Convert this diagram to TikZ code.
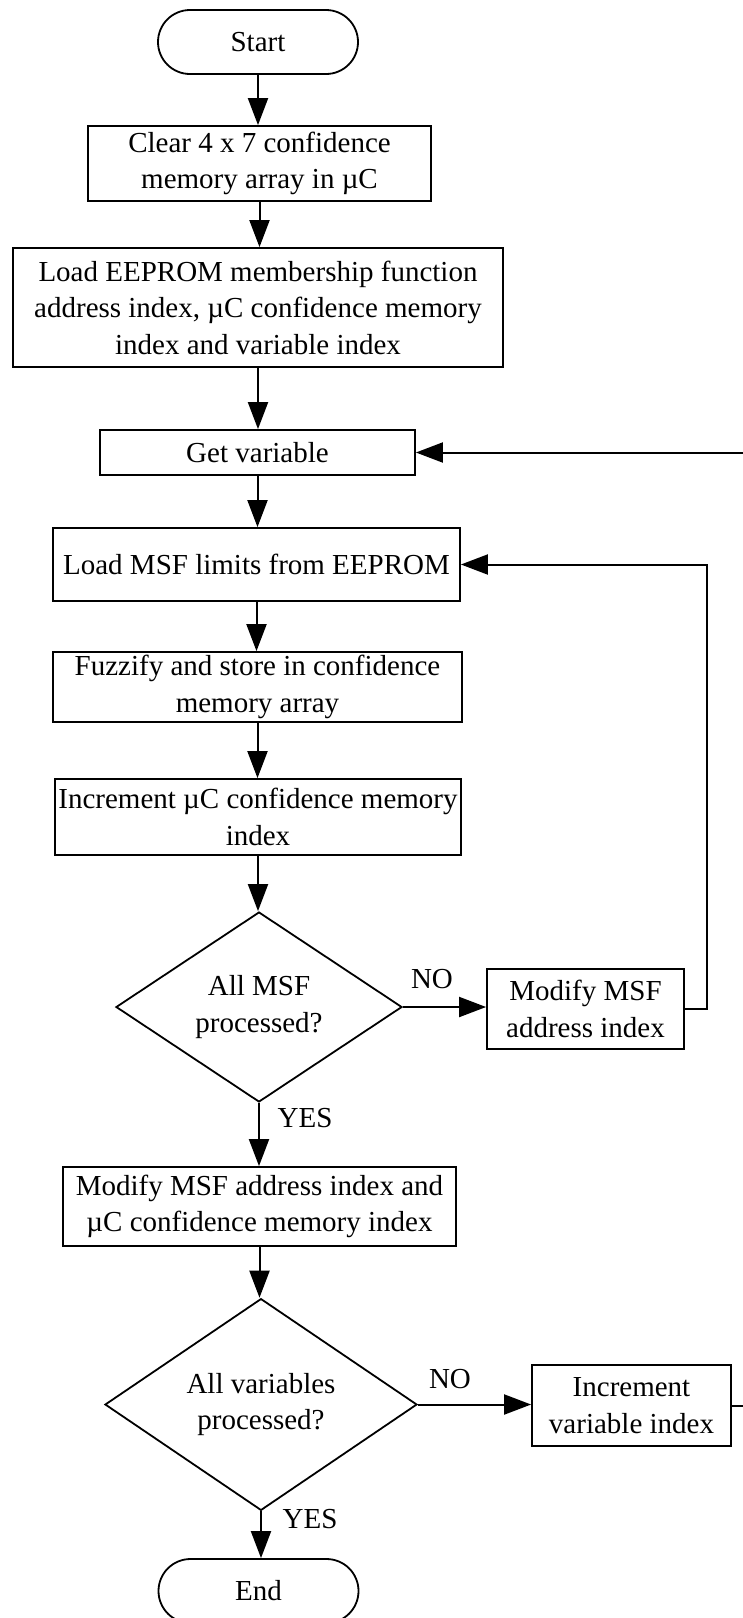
\documentclass[tikz,border=0pt]{standalone}
\usepackage{fontspec}
\setmainfont{Liberation Serif}
\usetikzlibrary{arrows.meta,shapes.geometric}
\tikzset{
  base/.style={draw=black, line width=1.8pt, inner sep=0pt, align=center,
    font=\fontsize{29}{36.5}\selectfont},
  procbox/.style={base, rectangle},
  termbox/.style={base, rectangle, rounded corners=32pt, minimum width=200pt, minimum height=64pt},
  decbox/.style={base, diamond},
  conn/.style={line width=2pt, -{Triangle[length=27pt,width=20pt]}},
  lbl/.style={font=\fontsize{29}{36.5}\selectfont, inner sep=0pt}
}
\begin{document}
\begin{tikzpicture}[x=1pt,y=-1pt]
\clip (0,0) rectangle (743,1618);
\fill[white] (0,0) rectangle (743,1618);

\node[termbox] (start) at (258,42) {Start};
\node[procbox, minimum width=343pt, minimum height=75pt] (clear) at (259.5,163.5)
  {Clear 4 x 7 confidence\\memory array in µC};
\node[procbox, minimum width=490pt, minimum height=119pt] (loadee) at (258,307.5)
  {Load EEPROM membership function\\address index, µC confidence memory\\index and variable index};
\node[procbox, minimum width=315pt, minimum height=45pt] (getvar) at (257.5,452.5)
  {Get variable};
\node[procbox, minimum width=407pt, minimum height=73pt] (loadmsf) at (256.5,564.5)
  {Load MSF limits from EEPROM};
\node[procbox, minimum width=409pt, minimum height=70pt] (fuzz) at (257.5,687)
  {Fuzzify and store in confidence\\memory array};
\node[procbox, minimum width=406pt, minimum height=76pt] (incr) at (258,817)
  {Increment µC confidence memory\\index};
\node[decbox, minimum width=286pt, minimum height=190pt] (d1) at (259,1007)
  {All MSF\\processed?};
\node[procbox, minimum width=197pt, minimum height=80pt] (modmsf) at (585.5,1009)
  {Modify MSF\\address index};
\node[procbox, minimum width=393pt, minimum height=79pt] (modboth) at (259.5,1206.5)
  {Modify MSF address index and\\µC confidence memory index};
\node[decbox, minimum width=312pt, minimum height=193pt] (d2) at (261,1404.5)
  {All variables\\processed?};
\node[procbox, minimum width=199pt, minimum height=81pt] (incvar) at (631.5,1405.5)
  {Increment\\variable index};
\node[termbox] (end) at (258.5,1591) {End};

\node[lbl] (no1) at (432,979) {NO};
\node[lbl] (yes1) at (305,1118) {YES};
\node[lbl] (no2) at (450,1379) {NO};
\node[lbl] (yes2) at (310,1519) {YES};

\coordinate (c1) at (707,1009);
\coordinate (c2) at (707,564.5);
\coordinate (c3) at (760,1405.5);
\coordinate (c4) at (760,452.5);

\draw[conn] (start.south) -- (start.south |- clear.north);
\draw[conn] (clear.south) -- (clear.south |- loadee.north);
\draw[conn] (loadee.south) -- (loadee.south |- getvar.north);
\draw[conn] (getvar.south) -- (getvar.south |- loadmsf.north);
\draw[conn] (loadmsf.south) -- (loadmsf.south |- fuzz.north);
\draw[conn] (fuzz.south) -- (fuzz.south |- incr.north);
\draw[conn] (incr.south) -- (incr.south |- d1.north);
\draw[conn] (d1.east) -- (d1.east -| modmsf.west);
\draw[conn] (d1.south) -- (d1.south |- modboth.north);
\draw[conn] (modmsf.east) -- (c1) -- (c2) -- (loadmsf.east);
\draw[conn] (modboth.south) -- (modboth.south |- d2.north);
\draw[conn] (d2.east) -- (d2.east -| incvar.west);
\draw[conn] (d2.south) -- (d2.south |- end.north);
\draw[conn] (incvar.east) -- (c3) -- (c4) -- (getvar.east);
\end{tikzpicture}
\end{document}
